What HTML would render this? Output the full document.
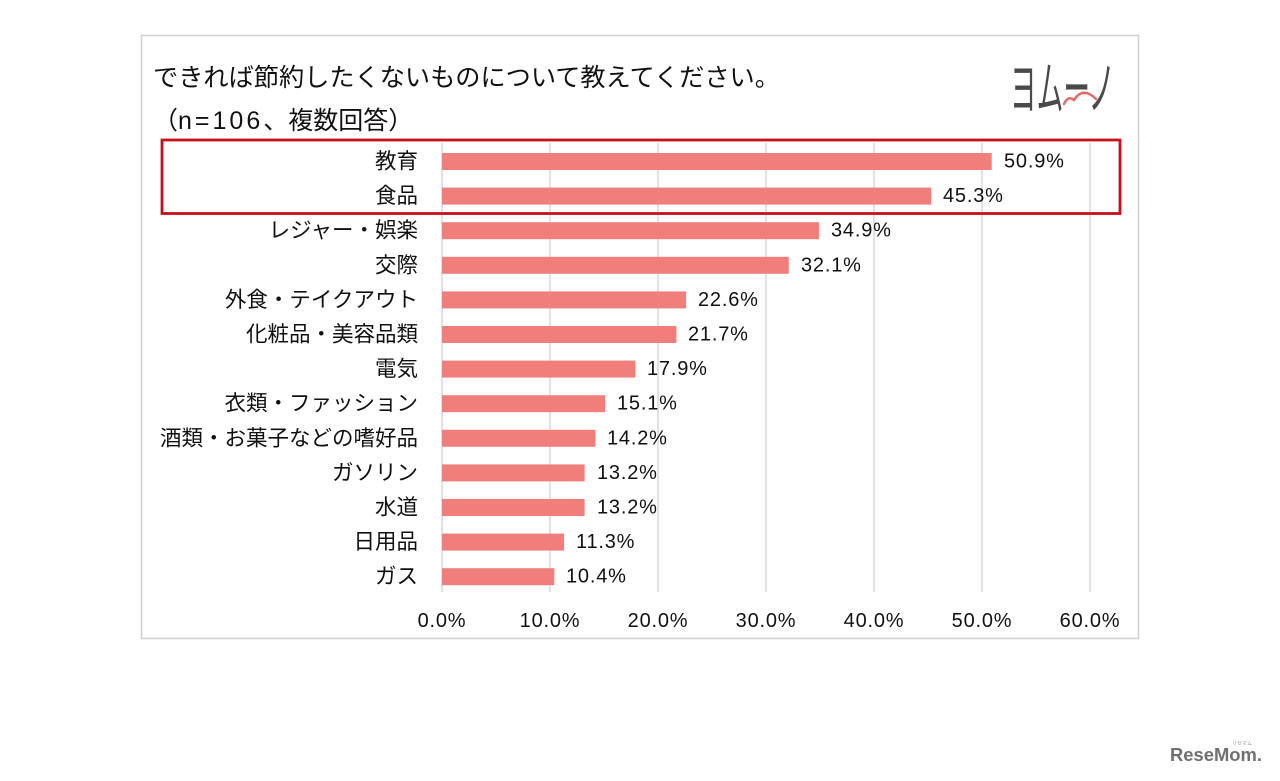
<!DOCTYPE html>
<html>
<head>
<meta charset="utf-8">
<style>
html,body{margin:0;padding:0;background:#fff;}
body{width:1280px;height:781px;overflow:hidden;}
svg{display:block;}
.jp{font-family:"Liberation Sans","Noto Sans CJK JP",sans-serif;fill:#111;}
.num{font-family:"Liberation Sans","DejaVu Sans",sans-serif;fill:#111;font-size:20px;letter-spacing:0.8px;}
</style>
</head>
<body>
<svg width="1280" height="781" viewBox="0 0 1280 781" xmlns="http://www.w3.org/2000/svg">
  <rect x="0" y="0" width="1280" height="781" fill="#fff"/>
  <!-- outer frame -->
  <rect x="141.5" y="35.5" width="997" height="603" fill="#fff" stroke="#d0d0d0" stroke-width="1.5"/>

  <!-- title -->
  <text class="jp" x="153" y="86" font-size="25.2">できれば節約したくないものについて教えてください。</text>
  <text class="jp" x="153" y="129" font-size="25">（<tspan letter-spacing="3">n=106</tspan>、複数回答）</text>

  <!-- logo -->
  <text x="0" y="0" font-size="58" fill="#4a4a4a" font-family="Noto Sans CJK JP, sans-serif" transform="translate(1010,109) scale(0.46,1)">ヨムーノ</text>
  <path d="M1064,104 q4,-9 10,-4 q9,-14 22,-1" fill="none" stroke="#e46a6a" stroke-width="2.5" stroke-linecap="round"/>

  <!-- gridlines -->
  <g stroke="#d9d9d9" stroke-width="1.5">
    <line x1="442" y1="143" x2="442" y2="592"/>
    <line x1="550" y1="143" x2="550" y2="592"/>
    <line x1="658" y1="143" x2="658" y2="592"/>
    <line x1="766" y1="143" x2="766" y2="592"/>
    <line x1="874" y1="143" x2="874" y2="592"/>
    <line x1="982" y1="143" x2="982" y2="592"/>
    <line x1="1090" y1="143" x2="1090" y2="592"/>
  </g>

  <!-- bars -->
  <g fill="#f07e7a">
    <rect x="442" y="153" width="549.7" height="17"/>
    <rect x="442" y="187.6" width="489.2" height="17"/>
    <rect x="442" y="222.2" width="376.9" height="17"/>
    <rect x="442" y="256.8" width="346.7" height="17"/>
    <rect x="442" y="291.4" width="244.1" height="17"/>
    <rect x="442" y="326" width="234.4" height="17"/>
    <rect x="442" y="360.6" width="193.3" height="17"/>
    <rect x="442" y="395.2" width="163.1" height="17"/>
    <rect x="442" y="429.8" width="153.4" height="17"/>
    <rect x="442" y="464.4" width="142.6" height="17"/>
    <rect x="442" y="499" width="142.6" height="17"/>
    <rect x="442" y="533.6" width="122" height="17"/>
    <rect x="442" y="568.2" width="112.3" height="17"/>
  </g>

  <!-- category labels -->
  <g class="jp" font-size="21.5" text-anchor="end" dominant-baseline="central">
    <text x="418" y="161.5">教育</text>
    <text x="418" y="196.1">食品</text>
    <text x="418" y="230.7">レジャー・娯楽</text>
    <text x="418" y="265.3">交際</text>
    <text x="418" y="299.9">外食・テイクアウト</text>
    <text x="418" y="334.5">化粧品・美容品類</text>
    <text x="418" y="369.1">電気</text>
    <text x="418" y="403.7">衣類・ファッション</text>
    <text x="418" y="438.3">酒類・お菓子などの嗜好品</text>
    <text x="418" y="472.9">ガソリン</text>
    <text x="418" y="507.5">水道</text>
    <text x="418" y="542.1">日用品</text>
    <text x="418" y="576.7">ガス</text>
  </g>

  <!-- value labels -->
  <g class="num" dominant-baseline="central">
    <text x="1004" y="161.5">50.9%</text>
    <text x="943" y="196.1">45.3%</text>
    <text x="831" y="230.7">34.9%</text>
    <text x="801" y="265.3">32.1%</text>
    <text x="698" y="299.9">22.6%</text>
    <text x="688" y="334.5">21.7%</text>
    <text x="647" y="369.1">17.9%</text>
    <text x="617" y="403.7">15.1%</text>
    <text x="607" y="438.3">14.2%</text>
    <text x="597" y="472.9">13.2%</text>
    <text x="597" y="507.5">13.2%</text>
    <text x="576" y="542.1">11.3%</text>
    <text x="566" y="576.7">10.4%</text>
  </g>

  <!-- axis labels -->
  <g class="num" text-anchor="middle" dominant-baseline="central">
    <text x="442" y="621">0.0%</text>
    <text x="550" y="621">10.0%</text>
    <text x="658" y="621">20.0%</text>
    <text x="766" y="621">30.0%</text>
    <text x="874" y="621">40.0%</text>
    <text x="982" y="621">50.0%</text>
    <text x="1090" y="621">60.0%</text>
  </g>

  <!-- highlight box -->
  <rect x="162" y="140" width="958" height="73.5" fill="none" stroke="#c8101a" stroke-width="2.8"/>

  <!-- watermark -->
  <text x="1170" y="761" font-family="Liberation Sans, sans-serif" font-weight="bold" font-size="18" fill="#707070" textLength="92" lengthAdjust="spacingAndGlyphs">ReseMom.</text>
  <text x="1232" y="745" font-family="Noto Sans CJK JP, sans-serif" font-size="5" fill="#909090">リセマム</text>
</svg>
</body>
</html>
